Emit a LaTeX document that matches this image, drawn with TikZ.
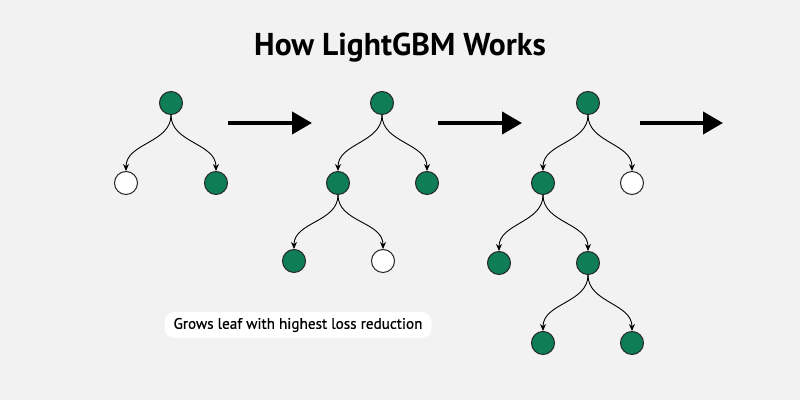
\documentclass[tikz,border=0pt]{standalone}
\usepackage{fontspec}
\setmainfont{PT Sans}
\usetikzlibrary{arrows.meta}
\definecolor{lgreen}{RGB}{15,125,85}
\definecolor{bggray}{RGB}{242,242,242}
\begin{document}
\begin{tikzpicture}[x=0.5pt, y=-0.5pt, node distance=40pt]
\tikzstyle{leaf} = [circle, minimum size=11.5pt, inner sep=0pt, draw=black!85, line width=0.5pt]
\tikzstyle{grown} = [leaf, fill=lgreen]
\tikzstyle{open} = [leaf, fill=white]
\tikzstyle{edge} = [-{Stealth[length=3.5pt,width=3pt]}, line width=0.45pt, out=-90, in=90]
\tikzstyle{bigarrow} = [line width=2pt, -{Triangle[length=10pt,width=11pt]}]
\fill[bggray] (0,0) rectangle (800,400);
\useasboundingbox (0,0) rectangle (800,400);
\node (title) at (400,48) {\fontsize{15.8}{18}\selectfont\bfseries How LightGBM Works};
 % first tree
\node (t1r) [grown] at (171,103) {};
\node (t1a) [open, below of=t1r, xshift=-22.5pt] {};
\node (t1b) [grown, below of=t1r, xshift=22.5pt] {};
 % second tree
\node (t2r) [grown] at (382,103) {};
\node (t2a) [grown, below of=t2r, xshift=-22pt] {};
\node (t2b) [grown, below of=t2r, xshift=22.5pt] {};
\node (t2c) [grown, below of=t2a, xshift=-22pt, yshift=1pt] {};
\node (t2d) [open, below of=t2a, xshift=22.5pt, yshift=1pt] {};
 % third tree
\node (t3r) [grown] at (588,103) {};
\node (t3a) [grown, below of=t3r, xshift=-22.5pt] {};
\node (t3b) [open, below of=t3r, xshift=22pt] {};
\node (t3c) [grown, below of=t3a, xshift=-22pt] {};
\node (t3d) [grown, below of=t3a, xshift=22.5pt] {};
\node (t3e) [grown, below of=t3d, xshift=-22.5pt] {};
\node (t3f) [grown, below of=t3d, xshift=22pt] {};
 % big arrows
\coordinate (a1s) at (228,123);
\coordinate (a1e) at (312,123);
\coordinate (a2s) at (438,123);
\coordinate (a2e) at (522,123);
\coordinate (a3s) at (640,123);
\coordinate (a3e) at (723,123);
\node (note) [fill=white, rounded corners=5pt, minimum width=133.5pt, minimum height=13pt, inner sep=0pt] at (298,325) {\fontsize{7.6}{9}\selectfont\addfontfeatures{FakeBold=0.7}Grows leaf with highest loss reduction};

\draw [edge] (t1r.south) to (t1a.north);
\draw [edge] (t1r.south) to (t1b.north);
\draw [edge] (t2r.south) to (t2a.north);
\draw [edge] (t2r.south) to (t2b.north);
\draw [edge] (t2a.south) to (t2c.north);
\draw [edge] (t2a.south) to (t2d.north);
\draw [edge] (t3r.south) to (t3a.north);
\draw [edge] (t3r.south) to (t3b.north);
\draw [edge] (t3a.south) to (t3c.north);
\draw [edge] (t3a.south) to (t3d.north);
\draw [edge] (t3d.south) to (t3e.north);
\draw [edge] (t3d.south) to (t3f.north);
\draw [bigarrow] (a1s) -- (a1e);
\draw [bigarrow] (a2s) -- (a2e);
\draw [bigarrow] (a3s) -- (a3e);
\end{tikzpicture}
\end{document}
